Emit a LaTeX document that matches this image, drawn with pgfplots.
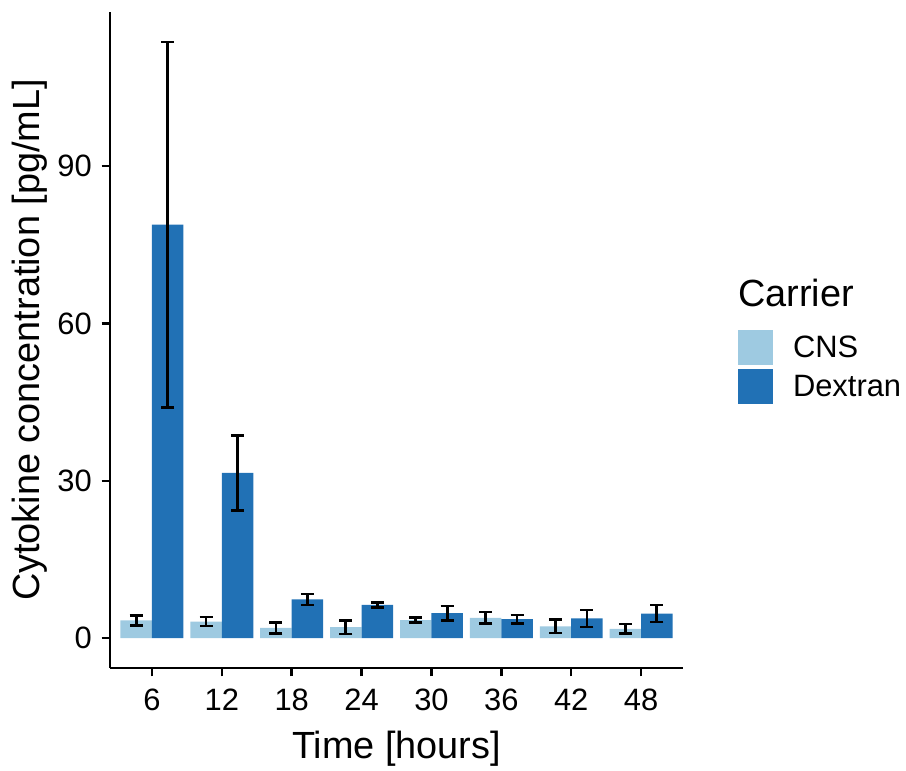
\documentclass[border=0pt]{standalone}
\usepackage{pgfplots}
\pgfplotsset{compat=1.18}
\usepackage{fontspec}
\setmainfont{Liberation Sans}
\definecolor{cns}{RGB}{158,202,225}
\definecolor{dex}{RGB}{33,113,181}
\begin{document}
\begin{tikzpicture}[x=1bp,y=1bp]
\path[use as bounding box] (0,0) rectangle (906,771);
\begin{axis}[
  at={(110bp,103bp)}, anchor=south west,
  scale only axis, width=573bp, height=656bp,
  xmin=0.4, xmax=8.6, ymin=-5.69, ymax=119.4,
  axis x line*=bottom, axis y line*=left,
  axis line style={line width=2.4bp, -},
  tick align=outside, major tick length=8.5bp,
  tick style={line width=2.4bp, black},
  xtick={1,...,8}, xticklabels={6,12,18,24,30,36,42,48},
  ytick={0,30,60,90},
  ticklabel style={font=\fontsize{31}{36}\selectfont, inner sep=0pt},
  xticklabel style={yshift=-12bp},
  yticklabel style={xshift=-9.5bp},
  /pgf/number format/assume math mode=true,
  every axis x label/.style={at={(axis description cs:0.5,-0.1387)}, anchor=base, font=\fontsize{38}{44}\selectfont},
  every axis y label/.style={at={(axis description cs:-0.1239,0.5)}, rotate=90, anchor=base, font=\fontsize{38}{44}\selectfont},
  xlabel={Time [hours]},
  ylabel={Cytokine concentration [pg/mL]},
  legend style={at={(axis description cs:1.096,0.515)}, anchor=north west, draw=none, fill=none, inner sep=0pt, outer sep=0pt, row sep=3.5bp, font=\fontsize{31}{36}\selectfont, nodes={inner sep=0pt}, /tikz/every odd column/.append style={column sep=20bp}},
  legend cell align=left,
  legend image code/.code={\fill[#1] (0bp,-17.5bp) rectangle (35bp,17.5bp);},
]
\addplot[ybar, bar width=0.45, bar shift=0, fill=cns, draw=none,
  error bars/.cd, y dir=both, y explicit, error mark=|,
  error bar style={line width=2.7bp, draw=black},
  error mark options={line width=2.7bp, mark size=6.5bp, draw=black}]
  table[x=x, y=y, y error=e] {
x y e
0.775 3.37 0.9
1.775 3.17 0.85
2.775 1.95 1.05
3.775 2.08 1.3
4.775 3.43 0.45
5.775 3.88 1.08
6.775 2.26 1.25
7.775 1.78 0.9
};
\addlegendentry{CNS}
\addplot[ybar, bar width=0.45, bar shift=0, fill=dex, draw=none,
  error bars/.cd, y dir=both, y explicit, error mark=|,
  error bar style={line width=2.7bp, draw=black},
  error mark options={line width=2.7bp, mark size=6.5bp, draw=black}]
  table[x=x, y=y, y error=e] {
x y e
1.225 78.85 34.85
2.225 31.5 7.1
3.225 7.38 1.03
4.225 6.35 0.45
5.225 4.77 1.35
6.225 3.63 0.77
7.225 3.75 1.6
8.225 4.7 1.6
};
\addlegendentry{Dextran}
\end{axis}
\node[anchor=base west, font=\fontsize{38}{44}\selectfont, inner sep=0pt] at (738,464) {Carrier};
\end{tikzpicture}
\end{document}
